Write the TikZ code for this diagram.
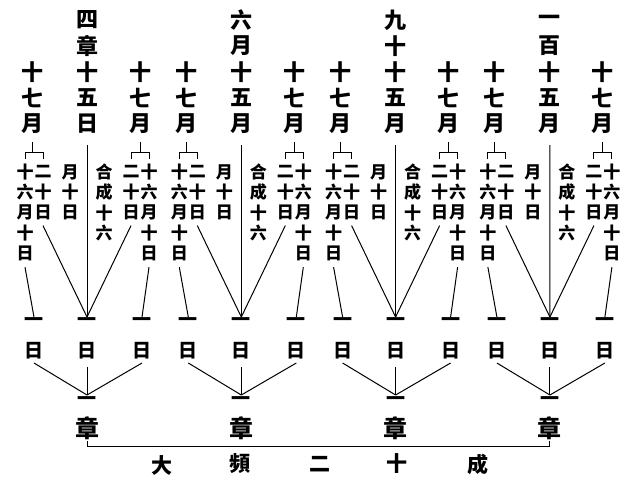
\documentclass[tikz,border=0pt]{standalone}
\usepackage{fontspec}
\newfontfamily\cjkfont{Noto Sans CJK TC}
\usetikzlibrary{calc}
\newcommand\vcol[6]{%
  \foreach \ch [count=\k] in {#6} {
    \node[#5] (#1-\k) at ({#2}, {#3+(\k-1)*#4}) {\ch};
  }%
}
\tikzset{
  big/.style={font=\cjkfont\bfseries\fontsize{22}{22}\selectfont, inner sep=0pt},
  small/.style={font=\cjkfont\bfseries\fontsize{17}{17}\selectfont, inner sep=0pt},
  mid/.style={font=\cjkfont\bfseries\fontsize{19}{19}\selectfont, inner sep=0pt},
  zhang/.style={font=\cjkfont\bfseries\fontsize{24}{24}\selectfont, inner sep=0pt},
  foot/.style={font=\cjkfont\bfseries\fontsize{21}{21}\selectfont, inner sep=0pt},
  link/.style={line width=1pt}
}
\begin{document}
\begin{tikzpicture}[x=1pt,y=-1pt]
\useasboundingbox (0,0) rectangle (628,488);
\fill[white] (0,0) rectangle (628,488);
% top centre columns
\vcol{c1}{87}{20}{26}{big}{四,章,十,五,日}
\vcol{c2}{241.3}{20}{26}{big}{六,月,十,五,月}
\vcol{c3}{395.6}{20}{26}{big}{九,十,十,五,月}
\vcol{c4}{549.9}{20}{26}{big}{一,百,十,五,月}
\coordinate (legy) at (0,159);
\coordinate (bary) at (0,152);
\foreach \g [evaluate=\g as \cx using {87+154.3*(\g-1)}] in {1,2,3,4} {
  \vcol{L\g}{\cx-55}{72}{26}{big}{十,七,月}
  \vcol{R\g}{\cx+53}{72}{26}{big}{十,七,月}
  \vcol{LA\g}{\cx-62}{172}{20.3}{small}{十,六,月,十,日}
  \vcol{LB\g}{\cx-44}{172}{20.3}{small}{二,十,日}
  \vcol{MA\g}{\cx-17}{172}{20.3}{small}{月,十,日}
  \vcol{MB\g}{\cx+17}{172}{20.3}{small}{合,成,十,六}
  \vcol{RB\g}{\cx+44}{172}{20.3}{small}{二,十,日}
  \vcol{RA\g}{\cx+62}{172}{20.3}{small}{十,六,月,十,日}
  % brackets
  \draw[link] ([yshift=-18pt]L\g-3.center) -- (L\g-3 |- bary);
  \draw[link] (LA\g-1 |- legy) |- (LB\g-1 |- bary) -- (LB\g-1 |- legy);
  \draw[link] ([yshift=-18pt]R\g-3.center) -- (R\g-3 |- bary);
  \draw[link] (RB\g-1 |- legy) |- (RA\g-1 |- bary) -- (RA\g-1 |- legy);
  % one-day row
  \node[mid] (oA\g) at (\cx-53,322) {一};
  \node[mid] (oB\g) at (\cx,322) {一};
  \node[mid] (oC\g) at (\cx+55,322) {一};
  \node[mid] (dA\g) at (\cx-53,351) {日};
  \node[mid] (dB\g) at (\cx,351) {日};
  \node[mid] (dC\g) at (\cx+55,351) {日};
  \draw[link] ([yshift=-21pt]c\g-5.center) -- ([yshift=5pt]oB\g.center);
  \draw[link] ([yshift=-13pt]LB\g-3.center) -- ([yshift=5pt]oB\g.center);
  \draw[link] ([yshift=-13pt]RB\g-3.center) -- ([yshift=5pt]oB\g.center);
  \draw[link] ([yshift=-14pt]LA\g-5.center) -- ([yshift=5pt]oA\g.center);
  \draw[link] ([yshift=-14pt]RA\g-5.center) -- ([yshift=5pt]oC\g.center);
  % chapter
  \node[mid] (h\g) at (\cx,401) {一};
  \node[zhang] (z\g) at (\cx,428) {章};
  \draw[link] ([yshift=-12pt]dA\g.center) -- ([yshift=6pt]h\g.center);
  \draw[link] ([yshift=-16pt]dB\g.center) -- ([yshift=6pt]h\g.center);
  \draw[link] ([yshift=-12pt]dC\g.center) -- ([yshift=6pt]h\g.center);
}
\coordinate (bl) at (87,446);
\draw[link] ([yshift=-13pt]z1.center) -- (bl) -| ([yshift=-13pt]z4.center);
\node[foot] (f1) at (162,465) {大};
\node[foot] (f2) at (240,464) {頻};
\node[foot] (f3) at (320,464) {二};
\node[foot] (f4) at (397,464) {十};
\node[foot] (f5) at (478,464) {成};
\end{tikzpicture}
\end{document}
